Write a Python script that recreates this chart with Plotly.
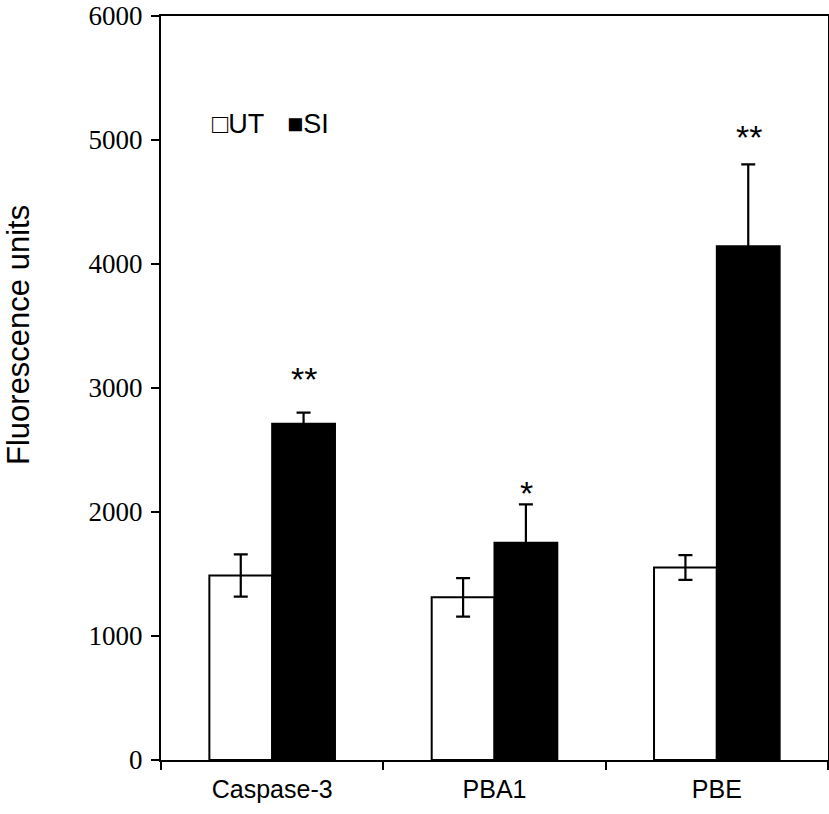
import plotly.graph_objects as go

categories = ["Caspase-3", "PBA1", "PBE"]
ut_values = [1488, 1312, 1552]
ut_errors = [170, 155, 100]
si_values = [2712, 1752, 4144]
si_errors = [90, 310, 660]
star_labels = ["**", "*", "**"]
star_levels = [3104, 2184, 5056]
y_ticks = [0, 1000, 2000, 3000, 4000, 5000, 6000]

TOP = 16
PLOT_H = 760 - TOP

fig = go.Figure()
fig.add_trace(go.Bar(
    name="UT", x=categories, y=ut_values,
    marker=dict(color="white", line=dict(color="black", width=2)),
    error_y=dict(type="data", array=ut_errors, color="black", thickness=2.2, width=7),
))
fig.add_trace(go.Bar(
    name="SI", x=categories, y=si_values,
    marker=dict(color="black", line=dict(color="black", width=2)),
    error_y=dict(type="data", array=si_errors, color="black", thickness=2.2, width=7),
))

for cat, lab, lev in zip(categories, star_labels, star_levels):
    fig.add_annotation(x=cat, y=lev, text=lab, showarrow=False, xshift=32, yshift=-4,
                       font=dict(family="Liberation Sans", size=34, color="black"),
                       yanchor="middle", xanchor="center")

fig.add_annotation(xref="paper", yref="paper", x=(19 - 161) / 667, y=(760 - 335) / PLOT_H,
                   text="Fluorescence units", textangle=-90, showarrow=False,
                   font=dict(family="Liberation Sans", size=31, color="black"),
                   xanchor="center", yanchor="middle")

# legend keys
fig.add_annotation(xref="paper", yref="paper", x=(210 - 161) / 667, y=(760 - 124) / PLOT_H,
                   text="□UT", showarrow=False, xanchor="left", yanchor="middle",
                   font=dict(family="Liberation Sans, DejaVu Sans", size=27, color="black"))
fig.add_annotation(xref="paper", yref="paper", x=(285 - 161) / 667, y=(760 - 124) / PLOT_H,
                   text="■SI", showarrow=False, xanchor="left", yanchor="middle",
                   font=dict(family="Liberation Sans, DejaVu Sans", size=27, color="black"))

fig.update_layout(
    width=829, height=814,
    margin=dict(l=161, r=1, t=TOP, b=54),
    paper_bgcolor="white", plot_bgcolor="white",
    barmode="group", bargap=0.435, bargroupgap=0,
    showlegend=False,
    xaxis=dict(showline=True, linecolor="black", linewidth=2, mirror=True, automargin=False,
               ticks="outside", tickson="boundaries", ticklen=8, tickwidth=2, tickcolor="black",
               tickfont=dict(family="Liberation Sans", size=25, color="black"),
               ticklabelstandoff=6,
               showgrid=False, range=[-0.5, 2.5]),
    yaxis=dict(showline=True, linecolor="black", linewidth=2, mirror=True, automargin=False,
               ticks="outside", ticklen=8, tickwidth=2, tickcolor="black",
               tickvals=y_ticks, ticktext=[str(v) for v in y_ticks],
               tickfont=dict(family="Liberation Serif", size=27, color="black"),
               ticklabeloverflow="allow", ticklabelstandoff=3,
               showgrid=False, zeroline=False, range=[0, 6000]),
)

fig.write_html("out.html", config={"displayModeBar": False},
               post_script="document.body.style.margin='0px';")
